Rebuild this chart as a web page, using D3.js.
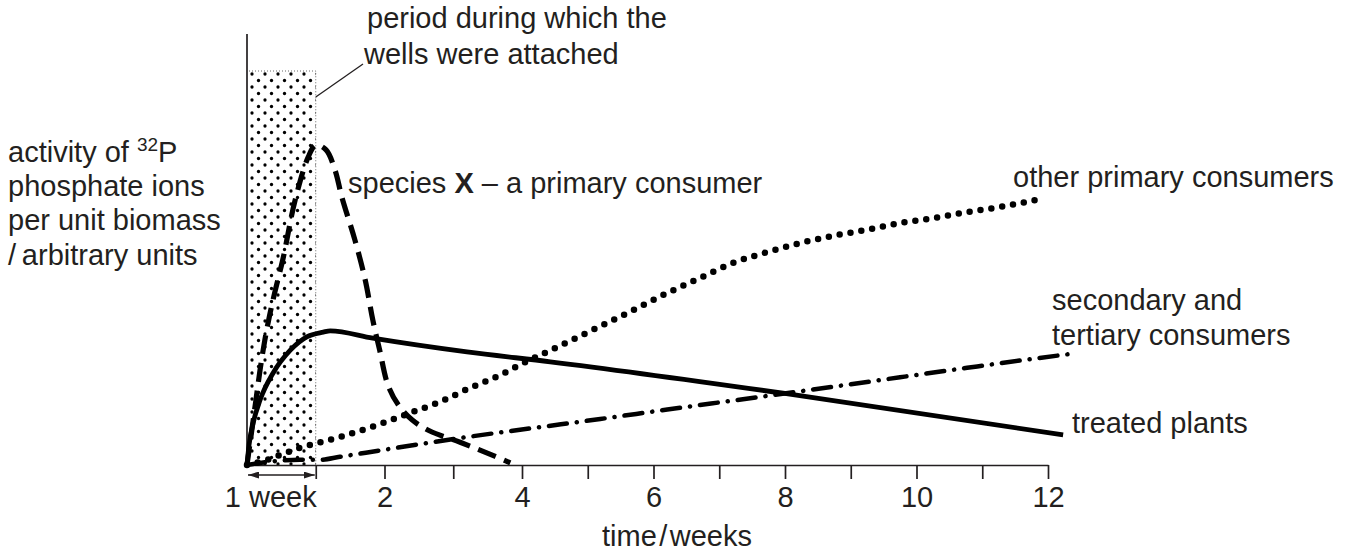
<!DOCTYPE html>
<html>
<head>
<meta charset="utf-8">
<script src="https://cdn.jsdelivr.net/npm/d3@7"></script>
<style>
  html, body { margin: 0; padding: 0; background: #fff; }
  svg { display: block; }
  text { font-family: "Liberation Sans", Arial, Helvetica, sans-serif; fill: #231f20; }
</style>
</head>
<body>
<svg id="chart" width="1356" height="552"></svg>
<script>
// ---- data (time in weeks, activity in arbitrary units 0-100) ----
const speciesXWeeks    = [0, 0.07, 0.13, 0.19, 0.26, 0.33, 0.42, 0.52, 0.70, 0.89, 1.00, 1.15, 1.28, 1.38, 1.57, 1.72, 1.83, 1.93, 2.05, 2.20, 2.40, 2.66, 3.10, 3.46, 3.83];
const speciesXActivity = [0, 8.1, 15.1, 22.1, 29.1, 34.9, 41.2, 47.7, 61.6, 71.6, 74.4, 73.3, 68.6, 62.3, 52.3, 43.0, 33.7, 26.7, 18.6, 14.0, 10.5, 7.9, 5.3, 3.0, 0.5];

const plantsWeeks    = [0, 0.03, 0.09, 0.19, 0.38, 0.63, 0.87, 1.11, 1.21, 1.83, 3.20, 4.43, 7.97, 12.23];
const plantsActivity = [0, 4.7, 9.8, 15.1, 21.4, 26.7, 29.8, 30.9, 31.2, 29.5, 26.3, 24.0, 16.7, 7.0];

const otherWeeks    = [0, 0.29, 0.48, 0.77, 1.02, 1.35, 1.93, 2.37, 2.81, 3.24, 3.68, 3.97, 4.38, 5.29, 5.69, 6.21, 6.71, 7.21, 7.73, 8.23, 8.73, 9.25, 9.75, 10.25, 10.77, 11.27, 11.95];
const otherActivity = [0, 1.2, 2.3, 4.0, 5.1, 6.5, 9.5, 12.1, 14.7, 17.9, 20.9, 23.3, 26.3, 33.0, 36.0, 40.0, 43.5, 47.0, 49.5, 51.6, 53.3, 54.7, 56.3, 57.4, 58.8, 60.0, 62.1];

const secTerWeeks    = [0, 0.29, 0.77, 1.06, 1.35, 1.98, 2.62, 3.20, 4.17, 5.19, 6.21, 7.36, 8.73, 9.75, 10.77, 11.77, 12.33];
const secTerActivity = [0, 0.7, 1.2, 1.2, 1.9, 3.5, 5.1, 6.5, 8.6, 10.7, 12.9, 15.3, 18.2, 20.4, 22.6, 24.7, 25.8];

const tickWeeks   = [1, 2, 3, 4, 5, 6, 7, 8, 9, 10, 11, 12];
const labelWeeks  = [2, 4, 6, 8, 10, 12];
const wellsPeriod = [0, 1];   // weeks during which wells were attached

const svg = d3.select("#chart");

// scales (hand-drawn axis: first weeks slightly wider)
const x = d3.scaleLinear().domain([0, 4, 12]).range([247, 522, 1048]);
const y = d3.scaleLinear().domain([0, 100]).range([465, 35]);

// ---- shaded period ----
const defs = svg.append("defs");
const pat = defs.append("pattern")
  .attr("id", "dots").attr("patternUnits", "userSpaceOnUse")
  .attr("x", 249).attr("y", 71).attr("width", 13).attr("height", 13);
pat.append("circle").attr("cx", 3).attr("cy", 3).attr("r", 1.65).attr("fill", "#000");
pat.append("circle").attr("cx", 9.5).attr("cy", 9.5).attr("r", 1.65).attr("fill", "#000");

svg.append("rect")
  .attr("x", x(wellsPeriod[0]) + 2).attr("y", 71)
  .attr("width", x(wellsPeriod[1]) - x(wellsPeriod[0]) - 2)
  .attr("height", y(0) - 71)
  .attr("fill", "url(#dots)");
// dotted edges
svg.append("path")
  .attr("d", `M${x(wellsPeriod[0]) + 2},71 H${x(wellsPeriod[1])} V${y(0)}`)
  .attr("fill", "none").attr("stroke", "#444").attr("stroke-width", 0.8)
  .attr("stroke-dasharray", "1,2");

// ---- axes ----
const xAxis = d3.axisBottom(x)
  .tickValues(tickWeeks)
  .tickSize(14).tickSizeOuter(0)
  .tickFormat(d => labelWeeks.includes(d) ? d : "");
const gx = svg.append("g").attr("transform", `translate(0,${y(0)})`).call(xAxis);
gx.select(".domain").attr("stroke", "#231f20").attr("stroke-width", 1.7);
gx.selectAll(".tick line").attr("stroke", "#231f20").attr("stroke-width", 1.7);
gx.selectAll(".tick text")
  .attr("y", 0).attr("dy", 0).attr("transform", "translate(0,42)")
  .style("font-family", '"Liberation Sans", Arial, sans-serif')
  .style("font-size", "29px").attr("fill", "#231f20");

svg.append("line")
  .attr("x1", x(0)).attr("x2", x(0)).attr("y1", 34).attr("y2", y(0))
  .attr("stroke", "#231f20").attr("stroke-width", 1.7);

// 1 week arrow
defs.append("marker").attr("id", "arr").attr("viewBox", "0 0 11 7")
  .attr("refX", 11).attr("refY", 3.5).attr("markerWidth", 11).attr("markerHeight", 7)
  .attr("markerUnits", "userSpaceOnUse").attr("orient", "auto-start-reverse")
  .append("path").attr("d", "M0,0 L11,3.5 L0,7 Z").attr("fill", "#231f20");
svg.append("line")
  .attr("x1", x(0) + 1).attr("x2", x(1) - 1).attr("y1", 475).attr("y2", 475)
  .attr("stroke", "#231f20").attr("stroke-width", 1.5)
  .attr("marker-start", "url(#arr)").attr("marker-end", "url(#arr)");
svg.append("text").attr("x", x(1) + 1).attr("y", 507).attr("text-anchor", "end")
  .style("font-size", "29px").text("1 week");

// axis titles
svg.append("text").attr("x", 677).attr("y", 546).attr("text-anchor", "middle")
  .style("font-size", "29px").text("time\u200A/\u200Aweeks");

const yl = svg.append("text").style("font-size", "29px");
const t1 = yl.append("tspan").attr("x", 8).attr("y", 162);
t1.append("tspan").text("activity of ");
t1.append("tspan").attr("dy", -11).style("font-size", "19px").text("32");
t1.append("tspan").attr("dy", 11).text("P");
yl.append("tspan").attr("x", 8).attr("y", 196).text("phosphate ions");
yl.append("tspan").attr("x", 8).attr("y", 230).text("per unit biomass");
yl.append("tspan").attr("x", 8).attr("y", 265).text("/\u2009arbitrary units");

// ---- lines ----
function series(ws, vs) { return ws.map((w, i) => [w, vs[i]]); }
const lineMono = d3.line().x(d => x(d[0])).y(d => y(d[1])).curve(d3.curveMonotoneX);
const lineCR = d3.line().x(d => x(d[0])).y(d => y(d[1])).curve(d3.curveCatmullRom.alpha(0.5));

svg.append("path").datum(series(plantsWeeks, plantsActivity))
  .attr("d", lineMono).attr("fill", "none").attr("stroke", "#000")
  .attr("stroke-width", 4.8).attr("stroke-linejoin", "round");

svg.append("path").datum(series(otherWeeks, otherActivity))
  .attr("d", lineMono).attr("fill", "none").attr("stroke", "#000")
  .attr("stroke-width", 6.5).attr("stroke-linecap", "round")
  .attr("stroke-dasharray", "0,11");

svg.append("path").datum(series(secTerWeeks, secTerActivity))
  .attr("d", lineMono).attr("fill", "none").attr("stroke", "#000")
  .attr("stroke-width", 4.5).attr("stroke-linecap", "round")
  .attr("stroke-dasharray", "18,10,0.1,10");

svg.append("path").datum(series(speciesXWeeks, speciesXActivity))
  .attr("d", lineCR).attr("fill", "none").attr("stroke", "#000")
  .attr("stroke-width", 5.2).attr("stroke-linecap", "butt")
  .attr("stroke-dasharray", "19,9");

// ---- annotations ----
svg.append("line").attr("x1", x(1)).attr("y1", 97).attr("x2", 363).attr("y2", 64)
  .attr("stroke", "#231f20").attr("stroke-width", 1.3);
svg.append("text").attr("x", 367).attr("y", 28).style("font-size", "29px").text("period during which the");
svg.append("text").attr("x", 364).attr("y", 64).style("font-size", "29px").text("wells were attached");

const sx = svg.append("text").attr("x", 348).attr("y", 193).style("font-size", "29px");
sx.append("tspan").text("species ");
sx.append("tspan").style("font-weight", "bold").text("X");
sx.append("tspan").text(" – a primary consumer");

svg.append("text").attr("x", 1013).attr("y", 187).style("font-size", "29px").text("other primary consumers");
svg.append("text").attr("x", 1052).attr("y", 310).style("font-size", "29px").text("secondary and");
svg.append("text").attr("x", 1052).attr("y", 345).style("font-size", "29px").text("tertiary consumers");
svg.append("text").attr("x", 1072).attr("y", 433).style("font-size", "29px").text("treated plants");
</script>
</body>
</html>
